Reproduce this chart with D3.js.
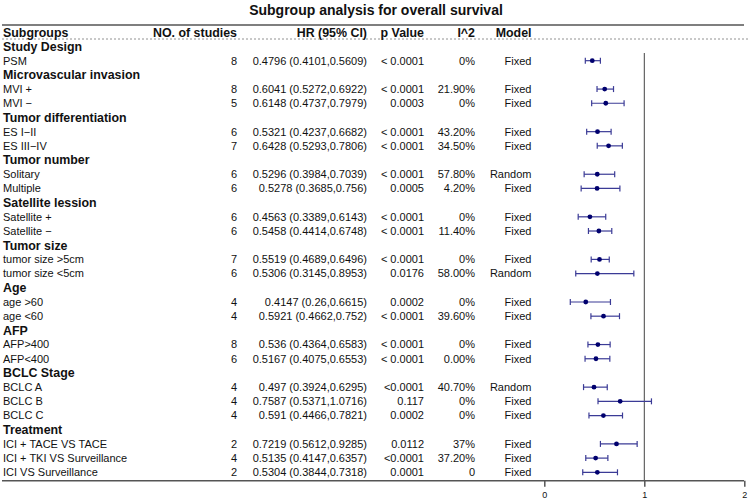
<!DOCTYPE html>
<html>
<head>
<meta charset="utf-8">
<script src="https://cdn.jsdelivr.net/npm/d3@7"></script>
<style>
  body { margin: 0; background: #fff; }
  svg { display: block; font-family: "Liberation Sans", Arial, sans-serif; }
</style>
</head>
<body>
<script>
// group headings and their subgroups, in display order
const groupNames = ["Study Design", "Microvascular invasion", "Tumor differentiation",
  "Tumor number", "Satellite lession", "Tumor size", "Age", "AFP", "BCLC Stage", "Treatment"];
const subgroupNames = [
  ["PSM"],
  ["MVI +", "MVI \u2212"],
  ["ES I\u2212II", "ES III\u2212IV"],
  ["Solitary", "Multiple"],
  ["Satellite +", "Satellite \u2212"],
  ["tumor size >5cm", "tumor size <5cm"],
  ["age >60", "age <60"],
  ["AFP>400", "AFP<400"],
  ["BCLC A", "BCLC B", "BCLC C"],
  ["ICI + TACE VS TACE", "ICI + TKI VS Surveillance", "ICI VS Surveillance"]
];
// one value per subgroup, same order as above
const studies = [8, 8, 5, 6, 7, 6, 6, 6, 6, 7, 6, 4, 4, 8, 6, 4, 4, 4, 2, 4, 2];
const hr = [0.4796, 0.6041, 0.6148, 0.5321, 0.6428, 0.5296, 0.5278, 0.4563, 0.5458,
  0.5519, 0.5306, 0.4147, 0.5921, 0.536, 0.5167, 0.497, 0.7587, 0.591, 0.7219, 0.5135, 0.5304];
const lower = [0.4101, 0.5272, 0.4737, 0.4237, 0.5293, 0.3984, 0.3685, 0.3389, 0.4414,
  0.4689, 0.3145, 0.26, 0.4662, 0.4364, 0.4075, 0.3924, 0.5371, 0.4466, 0.5612, 0.4147, 0.3844];
const upper = [0.5609, 0.6922, 0.7979, 0.6682, 0.7806, 0.7039, 0.756, 0.6143, 0.6748,
  0.6496, 0.8953, 0.6615, 0.752, 0.6583, 0.6553, 0.6295, 1.0716, 0.7821, 0.9285, 0.6357, 0.7318];
const pValues = ["< 0.0001", "< 0.0001", "0.0003", "< 0.0001", "< 0.0001", "< 0.0001", "0.0005",
  "< 0.0001", "< 0.0001", "< 0.0001", "0.0176", "0.0002", "< 0.0001", "< 0.0001", "< 0.0001",
  "<0.0001", "0.117", "0.0002", "0.0112", "<0.0001", "0.0001"];
const i2 = ["0%", "21.90%", "0%", "43.20%", "34.50%", "57.80%", "4.20%", "0%", "11.40%", "0%",
  "58.00%", "0%", "39.60%", "0%", "0.00%", "40.70%", "0%", "0%", "37%", "37.20%", "0"];
const models = ["Fixed", "Fixed", "Fixed", "Fixed", "Fixed", "Random", "Fixed", "Fixed", "Fixed",
  "Fixed", "Random", "Fixed", "Fixed", "Fixed", "Fixed", "Random", "Fixed", "Fixed", "Fixed",
  "Fixed", "Fixed"];
const xTicks = [0, 1, 2];

const width = 750;
const height = 503;

// flatten into table rows: a heading row, then its subgroup rows
let rows = [];
let k = 0;
groupNames.forEach((g, gi) => {
  rows.push({ head: true, label: g });
  subgroupNames[gi].forEach((s) => {
    rows.push({ head: false, label: s, i: k });
    k++;
  });
});

const svg = d3.select("body").append("svg")
  .attr("width", width)
  .attr("height", height);

const y = d3.scaleLinear().domain([0, rows.length - 1]).range([46.5, 472.3]);
const x = d3.scaleLinear().domain([0, 2]).range([544.3, 744.3]);

const lineCol = "#555";
const txtCol = "#111";

// title
svg.append("text")
  .attr("x", 376).attr("y", 15)
  .attr("text-anchor", "middle")
  .style("font-size", "14px").style("font-weight", "bold").attr("fill", txtCol)
  .text("Subgroup analysis for overall survival");

// top rule, header dashes
svg.append("line").attr("x1", 2).attr("x2", 744).attr("y1", 25).attr("y2", 25)
  .attr("stroke", lineCol).attr("stroke-width", 1.5);
svg.append("line").attr("x1", 2).attr("x2", 750).attr("y1", 39).attr("y2", 39)
  .attr("stroke", "#777").attr("stroke-width", 0.8).attr("stroke-dasharray", "2,2");

// columns: x position and anchor
const cols = [
  { name: "Subgroups", x: 3, anchor: "start" },
  { name: "NO. of studies", x: 237, anchor: "end" },
  { name: "HR (95% CI)", x: 367, anchor: "end" },
  { name: "p Value", x: 424, anchor: "end" },
  { name: "I^2", x: 475, anchor: "end" },
  { name: "Model", x: 531.5, anchor: "end" }
];

svg.selectAll(".hdr").data(cols).enter().append("text")
  .attr("class", "hdr")
  .attr("x", (d) => d.x).attr("y", 37)
  .attr("text-anchor", (d) => d.anchor)
  .style("font-size", "12.4px").style("font-weight", "bold").attr("fill", txtCol)
  .text((d) => d.name);

// table body
const cells = (r) => {
  if (r.head) return [r.label];
  const j = r.i;
  return [r.label, studies[j], `${hr[j]} (${lower[j]},${upper[j]})`, pValues[j], i2[j], models[j]];
};

const rowG = svg.selectAll(".row").data(rows).enter().append("g")
  .attr("class", "row")
  .attr("transform", (d, i) => `translate(0,${y(i)})`);

rowG.selectAll("text")
  .data((r) => cells(r).map((v, ci) => ({ v: v, col: cols[ci], head: r.head })))
  .enter().append("text")
  .attr("x", (d) => d.col.x)
  .attr("y", (d) => (d.head ? 4.4 : 3.9))
  .attr("text-anchor", (d) => d.col.anchor)
  .style("font-size", (d) => (d.head ? "12.4px" : "11px"))
  .style("font-weight", (d) => (d.head ? "bold" : "normal"))
  .attr("fill", txtCol)
  .text((d) => d.v);

// reference line at HR = 1
svg.append("line")
  .attr("x1", x(1)).attr("x2", x(1)).attr("y1", 53).attr("y2", 480.7)
  .attr("stroke", "#444").attr("stroke-width", 1);

// confidence intervals and points
const ciCol = "#3b3b96";
const dataRows = rows.map((r, ri) => ({ r: r, ri: ri })).filter((d) => !d.r.head);

const ci = svg.selectAll(".ci").data(dataRows).enter().append("g").attr("class", "ci");
ci.append("line")
  .attr("x1", (d) => x(lower[d.r.i])).attr("x2", (d) => x(upper[d.r.i]))
  .attr("y1", (d) => y(d.ri)).attr("y2", (d) => y(d.ri))
  .attr("stroke", ciCol).attr("stroke-width", 1.2);
[lower, upper].forEach((arr) => {
  ci.append("line")
    .attr("x1", (d) => x(arr[d.r.i])).attr("x2", (d) => x(arr[d.r.i]))
    .attr("y1", (d) => y(d.ri) - 3).attr("y2", (d) => y(d.ri) + 3)
    .attr("stroke", ciCol).attr("stroke-width", 1.2);
});
ci.append("circle")
  .attr("cx", (d) => x(hr[d.r.i])).attr("cy", (d) => y(d.ri))
  .attr("r", 2.4).attr("fill", "#00006e");

// bottom rule + x axis
svg.append("line").attr("x1", 2).attr("x2", 744).attr("y1", 480.7).attr("y2", 480.7)
  .attr("stroke", lineCol).attr("stroke-width", 1.5);

const axis = svg.append("g")
  .attr("transform", "translate(0,480.7)")
  .call(d3.axisBottom(x).tickValues(xTicks).tickFormat(d3.format("d")).tickSize(6).tickPadding(5));
axis.select(".domain").remove();
axis.selectAll(".tick line").attr("stroke", lineCol).attr("stroke-width", 1.5);
axis.selectAll(".tick text")
  .style("font-size", "9px")
  .style("font-family", "\"Liberation Sans\", Arial, sans-serif")
  .attr("fill", txtCol);
</script>
</body>
</html>
